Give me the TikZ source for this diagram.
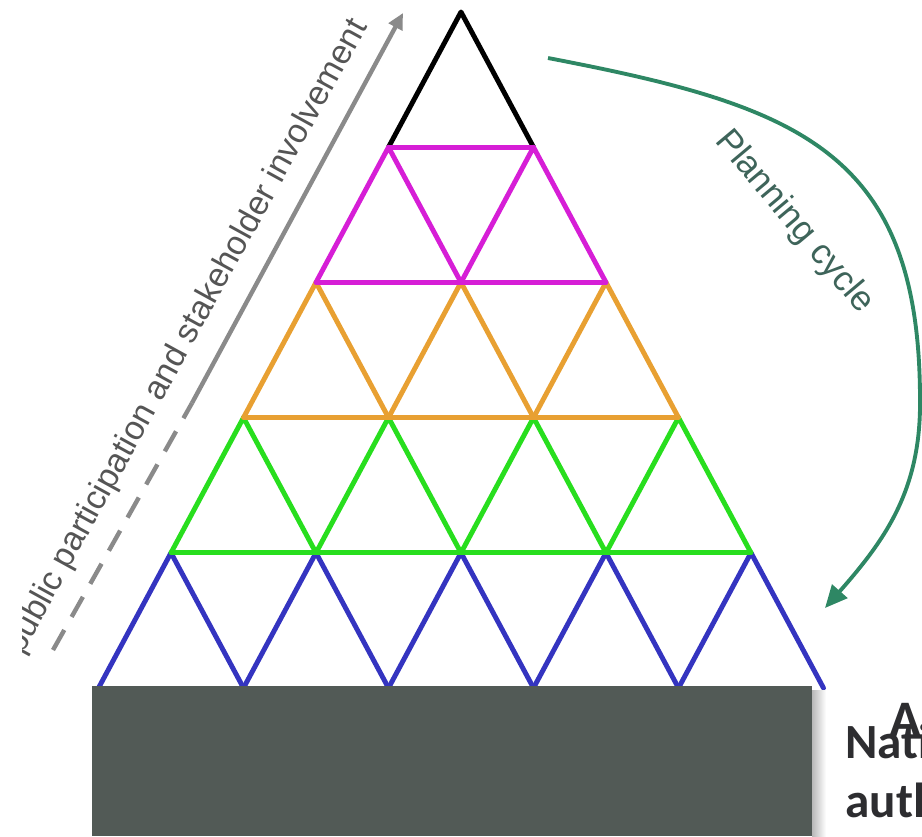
\documentclass[tikz,border=0pt]{standalone}
\usepackage{fontspec}
\setmainfont{Liberation Sans}
\newfontfamily\calibrifont{Carlito}
\usetikzlibrary{arrows.meta}
\definecolor{pyrmagenta}{RGB}{214,30,214}
\definecolor{pyrorange}{RGB}{232,160,50}
\definecolor{pyrgreen}{RGB}{40,222,30}
\definecolor{pyrblue}{RGB}{52,52,192}
\definecolor{cyclegreen}{RGB}{46,135,100}
\definecolor{cycletext}{RGB}{62,100,90}
\definecolor{partgray}{RGB}{138,138,138}
\definecolor{parttext}{RGB}{85,85,85}
\definecolor{basegray}{RGB}{82,90,86}
\definecolor{darktext}{RGB}{45,45,48}

\begin{document}
\begin{tikzpicture}[x=0.02cm,y=-0.02cm,>=Stealth,
    edge/.style={line width=2.8pt,line cap=round,line join=round},
    lbl/.style={inner sep=0pt,font=\fontsize{19.2}{19.2}\selectfont}]
  \useasboundingbox (0,0) rectangle (922,836);
  % pyramid, row k has k upward triangles
  \foreach \k/\c in {1/black,2/pyrmagenta,3/pyrorange,4/pyrgreen,5/pyrblue}{
    \pgfmathsetmacro{\yt}{12+135.2*(\k-1)}
    \pgfmathsetmacro{\yb}{\yt+135.2}
    \foreach \j in {1,...,\k}{
      \pgfmathsetmacro{\xa}{461+145*(\j-1)-72.5*(\k-1)}
      \draw[edge,\c] (\xa-72.5,\yb) -- (\xa,\yt) -- (\xa+72.5,\yb);
    }
  }
  % horizontal bars
  \draw[edge,pyrmagenta] (388.5,147.2) -- (533.5,147.2);
  \draw[edge,pyrmagenta] (316,282.4) -- (606,282.4);
  \draw[edge,pyrorange] (243.5,417.6) -- (678.5,417.6);
  \draw[edge,pyrgreen] (171,552.8) -- (751,552.8);
  % base block
  \shade[left color=black!28,right color=white] (812,690) rectangle (826,836);
  \fill[basegray] (92,686) rectangle (812,836);
  \node[anchor=base west,inner sep=0pt,text=darktext,
    font=\calibrifont\bfseries\fontsize{30}{30}\selectfont] (actor) at (889,737) {A};
  \node[anchor=base west,inner sep=0pt,text=darktext,
    font=\calibrifont\bfseries\fontsize{28}{28}\selectfont] (nat) at (845,758) {National};
  \node[anchor=base west,inner sep=0pt,text=darktext,
    font=\calibrifont\bfseries\fontsize{28}{28}\selectfont] (auth) at (845,817) {authority};
  % participation arrow
  \coordinate (pp0) at (53,650);
  \coordinate (pp1) at (192,403);
  \coordinate (pp2) at (403,13);
  \draw[partgray,line width=2.5pt,dash pattern=on 0.46cm off 0.3cm] (pp0) -- (pp1);
  \draw[partgray,line width=2.5pt,-{Triangle[length=0.32cm,width=0.3cm]}] (pp1) -- (pp2);
  \begin{scope}
    \clip (22,0) rectangle (922,836);
    \node[lbl,text=parttext,rotate=61.2,anchor=base] (part) at (195,341)
      {public participation and stakeholder involvement};
  \end{scope}
  % planning cycle
  \coordinate (cyc0) at (548,58);
  \coordinate (cyc1) at (825,608);
  \draw[cyclegreen,line width=2.2pt,-{Triangle[length=0.45cm,width=0.4cm]}]
    (cyc0) .. controls (798,106) and (920,150) .. (920,400)
    .. controls (921,490) and (885,540) .. (cyc1);
  \node[lbl,text=cycletext,rotate=-50,font=\fontsize{20}{20}\selectfont] (plan) at (794,222) {Planning cycle};
\end{tikzpicture}
\end{document}
